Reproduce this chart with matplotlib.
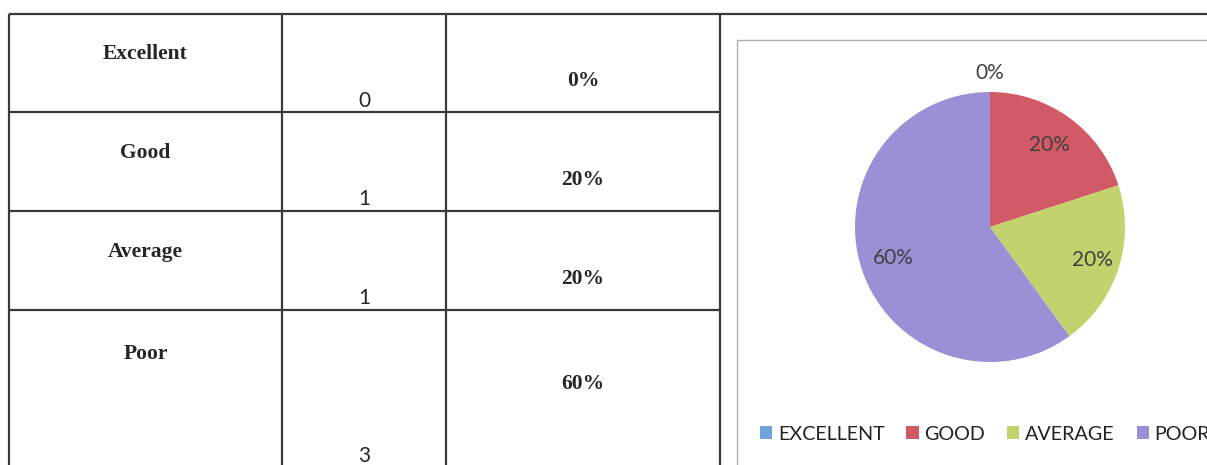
import numpy as np
import matplotlib
matplotlib.use("Agg")
import matplotlib.pyplot as plt
from matplotlib.patches import Patch, Rectangle

# ---------------------------------------------------------------
# Data (read from the scanned table / pie)
# ---------------------------------------------------------------
ratings = ['Excellent', 'Good', 'Average', 'Poor']
counts = [0, 1, 1, 3]
percent_labels = ['0%', '20%', '20%', '60%']
legend_labels = ['EXCELLENT', 'GOOD', 'AVERAGE', 'POOR']
colors = ['#6FA3DC', '#D25A66', '#C3D26C', '#9B90D5']

# ---------------------------------------------------------------
# Layout (pixels, figure is 1207 x 465)
# ---------------------------------------------------------------
W, H = 1207, 465
col_edges = [9, 282, 446, 720]
row_edges = [14, 112, 211, 310, 480]
label_dy = [40, 41, 41, 44]
count_dy = [87, 87, 87, 146]
pct_dy = [67, 68, 68, 74]

serif = 'Liberation Serif'
sans = 'Lato'

fig = plt.figure(figsize=(W / 100, H / 100), dpi=100)
fig.patch.set_facecolor('white')

# background axes in pixel coordinates for the table
bg = fig.add_axes([0, 0, 1, 1])
bg.set_xlim(0, W)
bg.set_ylim(H, 0)
bg.axis('off')

line_kw = dict(color='#3a3a3a', lw=1.6, solid_capstyle='butt')
# horizontal rules
bg.plot([col_edges[0], W], [row_edges[0]] * 2, **line_kw)
for y in row_edges[1:-1]:
    bg.plot([col_edges[0], col_edges[-1]], [y, y], **line_kw)
# vertical rules
for x in col_edges:
    bg.plot([x, x], [row_edges[0], H], **line_kw)

# cell texts
for i, name in enumerate(ratings):
    top = row_edges[i]
    bg.text((col_edges[0] + col_edges[1]) / 2, top + label_dy[i], name,
            ha='center', va='center', fontsize=15.5, fontweight='bold',
            family=serif, color='#262626')
    bg.text((col_edges[1] + col_edges[2]) / 2, top + count_dy[i], str(counts[i]),
            ha='center', va='center', fontsize=15, family=sans, color='#262626')
    bg.text((col_edges[2] + col_edges[3]) / 2, top + pct_dy[i], percent_labels[i],
            ha='center', va='center', fontsize=15.5, fontweight='bold',
            family=serif, color='#262626')

# chart frame
bg.add_patch(Rectangle((737, 40), 500, 460, fill=False, ec='#b0b0b0', lw=1.0))

# ---------------------------------------------------------------
# Pie chart
# ---------------------------------------------------------------
cx, cy, r = 990, 227, 135
pie_ax = fig.add_axes([(cx - r) / W, 1 - (cy + r) / H, 2 * r / W, 2 * r / H])
wedges, _ = pie_ax.pie(counts, colors=colors, startangle=90, counterclock=False,
                       radius=1.0, wedgeprops=dict(linewidth=0))
pie_ax.set_xlim(-1, 1)
pie_ax.set_ylim(-1, 1)
pie_ax.set_aspect('equal')
pie_ax.axis('off')

total = sum(counts)
dists = [1.14, 0.75, 0.80, 0.75]
for w, c, d in zip(wedges, counts, dists):
    ang = np.deg2rad((w.theta1 + w.theta2) / 2)
    pie_ax.text(d * np.cos(ang), d * np.sin(ang), f'{100 * c / total:.0f}%',
                ha='center', va='center', fontsize=15, family=sans,
                color='#404040', clip_on=False)

handles = [Patch(facecolor=c, edgecolor='none') for c in colors]
fig.legend(handles, legend_labels, loc='center left', ncol=4,
           bbox_to_anchor=(742 / W, 1 - 434 / H), frameon=False,
           prop={'family': sans, 'size': 14.2}, handlelength=0.62, handleheight=0.62,
           handletextpad=0.3, columnspacing=1.1, labelcolor='#222222')

fig.savefig('out.png', dpi=100)
